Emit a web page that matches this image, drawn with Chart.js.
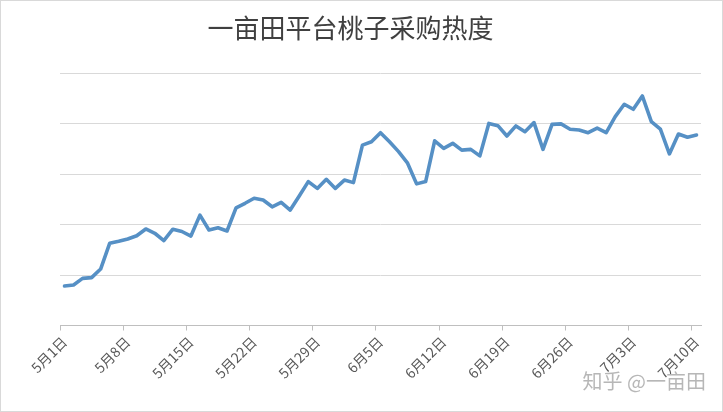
<!DOCTYPE html>
<html>
<head>
<meta charset="utf-8">
<script src="https://cdn.jsdelivr.net/npm/chart.js@4/dist/chart.umd.min.js"></script>
<style>
  html, body { margin: 0; padding: 0; background: #ffffff; }
  #wrap { position: relative; width: 723px; height: 412px; }
</style>
</head>
<body>
<div id="wrap"><canvas id="c"></canvas></div>
<script>
const chartTitle = "一亩田平台桃子采购热度";
const watermark = "知乎 @一亩田";

const dates = [
  "5月1日","5月2日","5月3日","5月4日","5月5日","5月6日","5月7日","5月8日","5月9日","5月10日",
  "5月11日","5月12日","5月13日","5月14日","5月15日","5月16日","5月17日","5月18日","5月19日","5月20日",
  "5月21日","5月22日","5月23日","5月24日","5月25日","5月26日","5月27日","5月28日","5月29日","5月30日",
  "5月31日","6月1日","6月2日","6月3日","6月4日","6月5日","6月6日","6月7日","6月8日","6月9日",
  "6月10日","6月11日","6月12日","6月13日","6月14日","6月15日","6月16日","6月17日","6月18日","6月19日",
  "6月20日","6月21日","6月22日","6月23日","6月24日","6月25日","6月26日","6月27日","6月28日","6月29日",
  "6月30日","7月1日","7月2日","7月3日","7月4日","7月5日","7月6日","7月7日","7月8日","7月9日",
  "7月10日"
];

const heat = [
  15.7, 16.1, 18.7, 19.0, 22.4, 32.6, 33.4, 34.3, 35.6, 38.3,
  36.6, 33.7, 38.2, 37.3, 35.5, 43.8, 37.9, 38.8, 37.5, 46.7,
  48.5, 50.5, 49.8, 47.1, 48.9, 45.8, 51.4, 57.1, 54.4, 58.0,
  54.4, 57.7, 56.7, 71.6, 72.9, 76.5, 72.9, 69.0, 64.4, 56.2,
  57.1, 73.3, 70.3, 72.3, 69.6, 69.9, 67.3, 80.2, 79.3, 75.2,
  79.2, 76.9, 80.5, 69.9, 79.8, 80.0, 77.9, 77.6, 76.5, 78.3,
  76.5, 82.9, 87.8, 85.8, 91.1, 80.9, 77.9, 68.1, 76.0, 74.7,
  75.6
];

const yMin = 0, yMax = 100, yStep = 20;
const labelEvery = 7;

const decor = {
  id: 'decor',
  afterDraw(chart) {
    const ctx = chart.ctx;
    ctx.save();
    ctx.strokeStyle = '#d9d9d9';
    ctx.lineWidth = 1;
    ctx.strokeRect(0.5, 0.5, chart.width - 1, chart.height - 1);
    ctx.font = '20px "Noto Sans CJK SC"';
    ctx.fillStyle = 'rgba(170,170,170,0.85)';
    ctx.textAlign = 'right';
    ctx.textBaseline = 'middle';
    ctx.fillText(watermark, 706, 381);
    ctx.restore();
  }
};

new Chart(document.getElementById('c'), {
  type: 'line',
  data: {
    labels: dates,
    datasets: [{
      data: heat,
      borderColor: '#5690c5',
      borderWidth: 3.6,
      pointRadius: 0,
      pointHoverRadius: 0,
      tension: 0,
      fill: false,
      borderJoinStyle: 'round',
      borderCapStyle: 'round'
    }]
  },
  options: {
    responsive: true,
    maintainAspectRatio: false,
    animation: false,
    layout: { padding: { left: 0, right: 22, top: 0, bottom: 0 } },
    plugins: {
      legend: { display: false },
      tooltip: { enabled: false },
      title: {
        display: true,
        text: chartTitle,
        color: '#404040',
        font: { family: '"Noto Sans CJK SC"', size: 26, weight: 'normal' },
        padding: { top: 13, bottom: 29.3 }
      }
    },
    scales: {
      x: {
        offset: true,
        afterFit(s) { s.height = 86.5; },
        grid: {
          offset: true,
          drawOnChartArea: false,
          drawTicks: true,
          tickLength: 5,
          color: c => (c.index !== undefined && c.index % labelEvery === 0) ? '#bfbfbf' : 'rgba(0,0,0,0)'
        },
        border: { display: true, color: '#bfbfbf', width: 1 },
        ticks: {
          autoSkip: false,
          minRotation: 45,
          maxRotation: 45,
          padding: 3,
          color: '#595959',
          font: { family: '"Noto Sans CJK SC"', size: 14 },
          callback: function (v, i) { return i % labelEvery === 0 ? this.getLabelForValue(v) : ''; }
        }
      },
      y: {
        min: yMin,
        max: yMax,
        afterFit(s) { s.width = 60; },
        ticks: { display: false, stepSize: yStep },
        grid: { color: '#d9d9d9', lineWidth: 1, drawTicks: false },
        border: { display: false }
      }
    }
  },
  plugins: [decor]
});
</script>
</body>
</html>
